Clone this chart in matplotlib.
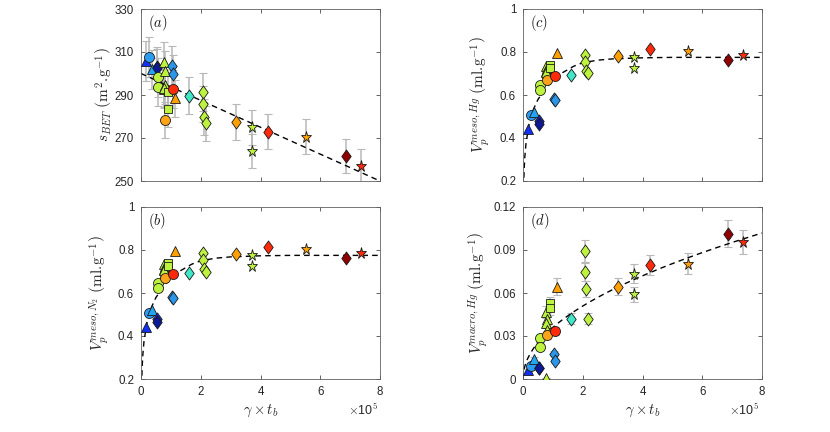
import numpy as np
import matplotlib
matplotlib.use('Agg')
import matplotlib.pyplot as plt
from matplotlib.path import Path

plt.rcParams['font.family'] = ['Liberation Sans', 'DejaVu Sans']
plt.rcParams['mathtext.fontset'] = 'cm'

# ---------------- data (x in units of 1e5) ----------------
markers = ['^', 'o', '^', 'd', 'd', 'o', 'o', '^', '^', '^', '^', '^', 's', 's',
           'o', 'o', '^', 'd', 'd', 'd', 'd', 'd', 'd', 'd', 'd', '*', '*', 'd',
           '*', 'd', '*']
colors = ['#1030f5', '#2c9cf2', '#24a4f2', '#1428cc', '#0c1896', '#bdf23f', '#bdf23f',
          '#bdf23f', '#bdf23f', '#bdf23f', '#bdf23f', '#bdf23f', '#bdf23f', '#bdf23f',
          '#ffa31a', '#ff2a0a', '#ffa000', '#2a96ea', '#2a96ea', '#40e8c8', '#bdf23f',
          '#bdf23f', '#bdf23f', '#bdf23f', '#ffa000', '#bdf23f', '#bdf23f', '#ff2a0a',
          '#ffa000', '#900000', '#ff2a0a']
gamma_tb = [0.18, 0.27, 0.37, 0.52, 0.55, 0.57, 0.58, 0.78, 0.80, 0.76, 0.79, 0.76,
            0.92, 0.90, 0.82, 1.08, 1.15, 1.05, 1.06, 1.60, 2.07, 2.08, 2.10, 2.16,
            3.18, 3.71, 3.71, 4.25, 5.52, 6.87, 7.36]
s_bet = [305.8, 307.8, 302.0, 303.2, 302.5, 298.2, 293.6, 305.5, 301.2, 292.7, 294.5,
         293.2, 283.4, 291.5, 278.4, 292.8, 288.4, 303.5, 299.8, 289.7, 291.5, 285.8,
         279.6, 276.8, 277.6, 275.0, 264.1, 272.9, 270.6, 261.6, 257.0]
v_meso_n2 = [0.443, 0.506, 0.521, 0.478, 0.463, 0.645, 0.622, 0.735, 0.725, 0.712,
             0.700, 0.705, 0.738, 0.725, 0.668, 0.690, 0.794, 0.580, 0.578, 0.693,
             0.786, 0.755, 0.710, 0.700, 0.781, 0.777, 0.727, 0.812, 0.805, 0.762, 0.788]
v_meso_hg = [0.443, 0.508, 0.523, 0.478, 0.465, 0.645, 0.625, 0.735, 0.725, 0.712,
             0.700, 0.705, 0.738, 0.725, 0.668, 0.690, 0.794, 0.580, 0.578, 0.693,
             0.786, 0.755, 0.710, 0.700, 0.781, 0.777, 0.727, 0.812, 0.805, 0.762, 0.788]
v_macro_hg = [0.0063, 0.0090, 0.0140, 0.0078, 0.0075, 0.0284, 0.0226, 0.0470, 0.0420,
              0.0390, 0.0345, 0.0008, 0.0528, 0.0493, 0.0305, 0.0335, 0.0645, 0.0177,
              0.0125, 0.0420, 0.0890, 0.0750, 0.0628, 0.0420, 0.0645, 0.0735, 0.0590,
              0.0795, 0.0805, 0.1015, 0.0955]
s_bet_rel_err = 0.03
v_macro_rel_err = 0.09

# fitted trend lines
sbet_fit_intercept, sbet_fit_slope = 300.0, -6.25
meso_curve_x = [0.02, 0.025, 0.04, 0.06, 0.1, 0.2, 0.35, 0.5, 0.75, 1.0, 1.3, 1.7,
                2.0, 2.5, 3.0, 4.0, 5.0, 8.0]
meso_curve_y = [0.17, 0.198, 0.258, 0.310, 0.375, 0.463, 0.534, 0.579, 0.630, 0.667,
                0.702, 0.734, 0.750, 0.762, 0.768, 0.773, 0.775, 0.775]
macro_fit_a, macro_fit_b = 0.036, 0.5

xticks = [0, 2, 4, 6, 8]

# ---------------- figure ----------------
fig = plt.figure(figsize=(8.3, 4.32), dpi=100)
W, H = 830.0, 432.0
def axes_px(l, t, r, b):
    return fig.add_axes([l / W, 1 - b / H, (r - l) / W, (b - t) / H])

ax_a = axes_px(141, 9, 380, 181)
ax_b = axes_px(141, 207, 380, 379)
ax_c = axes_px(523, 9, 762, 181)
ax_d = axes_px(523, 207, 762, 379)

diamond = Path([(0, 0.5), (0.36, 0), (0, -0.5), (-0.36, 0), (0, 0.5)],
               [Path.MOVETO, Path.LINETO, Path.LINETO, Path.LINETO, Path.CLOSEPOLY])
msizes = {'o': 7.2, '^': 7.4, 's': 5.4, 'd': 9.4, '*': 8.2}

def draw(ax, y, rel_err=None):
    if rel_err is not None:
        for xi, yi in zip(gamma_tb, y):
            ax.errorbar(xi, yi, yerr=rel_err * yi, fmt='none', ecolor='#b8b8b8',
                        elinewidth=1.1, capsize=3, capthick=0.8, zorder=2)
    for i, (xi, yi) in enumerate(zip(gamma_tb, y)):
        m = markers[i]
        mk = diamond if m == 'd' else m
        ax.plot(xi, yi, marker=mk, ms=msizes[m], mfc=colors[i], mec='#1a1a1a',
                mew=0.6, ls='none', zorder=3 + i * 0.01)

def style(ax, yticks, yticklabels, ylim, show_x):
    ax.set_xlim(0, 8)
    ax.set_ylim(*ylim)
    ax.set_xticks(xticks)
    ax.set_yticks(yticks)
    ax.set_yticklabels(yticklabels)
    if show_x:
        ax.set_xticklabels([str(t) for t in xticks])
    else:
        ax.set_xticklabels([])
    ax.tick_params(direction='in', length=3, width=0.5, top=True, right=True,
                   labelsize=8.3, colors='#262626', pad=5)
    for s in ax.spines.values():
        s.set_linewidth(0.6)
        s.set_color('#606060')

# (a)
draw(ax_a, s_bet, s_bet_rel_err)
xl = np.array([0, 8])
ax_a.plot(xl, sbet_fit_intercept + sbet_fit_slope * xl, ls=(0, (4, 3)), color='black',
          lw=1.0, zorder=2.5)
style(ax_a, [250, 270, 290, 310, 330], ['250', '270', '290', '310', '330'], (250, 330), False)

# (b)
draw(ax_b, v_meso_n2)
ax_b.plot(meso_curve_x, meso_curve_y, ls=(0, (4, 3)), color='black', lw=1.0, zorder=2.5)
style(ax_b, [0.2, 0.4, 0.6, 0.8, 1.0], ['0.2', '0.4', '0.6', '0.8', '1'], (0.2, 1.0), True)

# (c)
draw(ax_c, v_meso_hg)
ax_c.plot(meso_curve_x, meso_curve_y, ls=(0, (4, 3)), color='black', lw=1.0, zorder=2.5)
style(ax_c, [0.2, 0.4, 0.6, 0.8, 1.0], ['0.2', '0.4', '0.6', '0.8', '1'], (0.2, 1.0), False)

# (d)
draw(ax_d, v_macro_hg, v_macro_rel_err)
xc = np.linspace(0, 8, 200)
ax_d.plot(xc, macro_fit_a * xc ** macro_fit_b, ls=(0, (4, 3)), color='black', lw=1.0, zorder=2.5)
style(ax_d, [0, 0.03, 0.06, 0.09, 0.12], ['0', '0.03', '0.06', '0.09', '0.12'], (0, 0.12), True)

# panel labels
for ax, lab in [(ax_a, 'a'), (ax_b, 'b'), (ax_c, 'c'), (ax_d, 'd')]:
    ax.text(0.03, 0.92, r'$(%s)$' % lab, transform=ax.transAxes, fontsize=10.5,
            va='center', ha='left', color='#1a1a1a')

# y labels
lab_kw = dict(fontsize=11.0, color='#262626')
ax_a.set_ylabel(r'$s_{BET}\ \left(\mathrm{m}^2.\!\mathrm{g}^{-1}\right)$', **lab_kw)
ax_b.set_ylabel(r'$V_p^{meso,N_2}\ \left(\mathrm{ml}.\!\mathrm{g}^{-1}\right)$', **lab_kw)
ax_c.set_ylabel(r'$V_p^{meso,Hg}\ \left(\mathrm{ml}.\!\mathrm{g}^{-1}\right)$', **lab_kw)
ax_d.set_ylabel(r'$V_p^{macro,Hg}\ \left(\mathrm{ml}.\!\mathrm{g}^{-1}\right)$', **lab_kw)
ax_a.yaxis.set_label_coords(-0.110, 0.5)
ax_b.yaxis.set_label_coords(-0.126, 0.5)
ax_c.yaxis.set_label_coords(-0.128, 0.5)
ax_d.yaxis.set_label_coords(-0.136, 0.5)

# x labels and multipliers
for cx, mx in [(260.5, 363), (642.5, 744)]:
    fig.text(cx / W, 1 - 411 / H, r'$\gamma \times t_b$', ha='center', va='center',
             fontsize=10.5, color='#262626')
    fig.text(mx / W, 1 - 410 / H, r'$\times$10$^5$', ha='center', va='center',
             fontsize=9, color='#262626')

fig.savefig('out.png', dpi=100)
